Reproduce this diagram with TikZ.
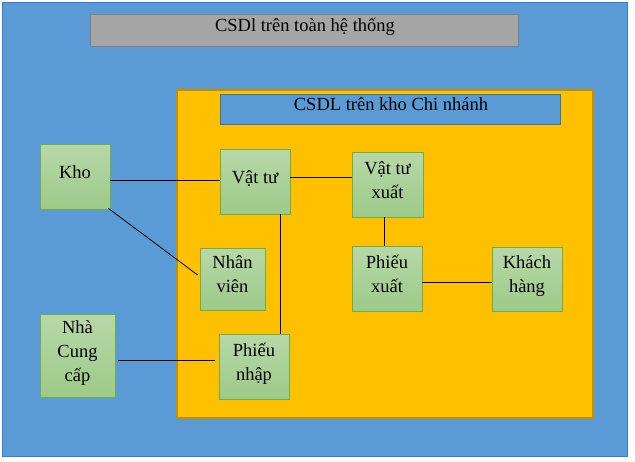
\documentclass[tikz,border=0pt]{standalone}
\usepackage{fontspec}
\setmainfont{Liberation Serif}
\definecolor{sysblue}{HTML}{5B9BD5}
\definecolor{sysblueline}{HTML}{41719C}
\definecolor{selblue}{HTML}{2F7FE0}
\definecolor{branchgold}{HTML}{FFC000}
\definecolor{branchgoldline}{HTML}{BF9000}
\definecolor{bargray}{HTML}{A5A5A5}
\definecolor{bargrayline}{HTML}{7F7F7F}
\definecolor{tabletop}{HTML}{B7D8A8}
\definecolor{tablebottom}{HTML}{9DCA89}
\definecolor{tableline}{HTML}{70AD47}
\newcommand{\boxstrut}{\rule[-9pt]{0pt}{19pt}}
\begin{document}
\begin{tikzpicture}[x=1pt, y=-1pt,
  table/.style={draw=tableline, thick, top color=tabletop, bottom color=tablebottom,
    inner sep=0pt, align=center, font=\fontsize{18.5}{24}\selectfont,
    execute at begin node=\boxstrut, execute at end node=\boxstrut},
  title/.style={anchor=base, inner sep=0pt, font=\fontsize{18.5}{24}\selectfont},
  link/.style={draw=black, line width=0.8pt}]
  \useasboundingbox (0,0) rectangle (635,461);

  % Frames
  \draw[selblue, line width=0.8pt, fill=sysblue] (2,2) rectangle (627,456);
  \draw[bargrayline, thick, fill=bargray] (90,14) rectangle (518,46);
  \node[title] (systitle) at (305,31.7) {CSDl trên toàn hệ thống};
  \draw[branchgoldline, line width=1.2pt, fill=branchgold] (177,90) rectangle (593,418);
  \draw[sysblueline, thick, fill=sysblue] (220,94) rectangle (560,124);
  \node[title] (branchtitle) at (391,110) {CSDL trên kho Chi nhánh};

  % Tables
  \node (kho) at (75,176.5) [table, minimum width=70pt, minimum height=65pt] {Kho};
  \node (vattu) at (255,181.5) [table, minimum width=70pt, minimum height=65pt] {Vật tư};
  \node (vattuxuat) at (387.5,184.5) [table, minimum width=71pt, minimum height=65pt] {Vật tư\\xuất};
  \node (nhanvien) at (232.5,279) [table, minimum width=65pt, minimum height=62pt] {Nhân\\viên};
  \node (phieuxuat) at (387,278.5) [table, minimum width=70pt, minimum height=65pt] {Phiếu\\xuất};
  \node (khachhang) at (527,279) [table, minimum width=70pt, minimum height=64pt] {Khách\\hàng};
  \node (nhacc) at (77.5,355.5) [table, minimum width=75pt, minimum height=83pt] {Nhà\\Cung\\cấp};
  \node (phieunhap) at (254,366.5) [table, minimum width=70pt, minimum height=65pt] {Phiếu\\nhập};

  % Links
  \draw[link] ([yshift=-3.5pt]kho.east) -- ([yshift=-3.5pt]kho.east -| vattu.west);
  \draw[link] ([yshift=4.5pt]vattu.east) -- ([yshift=4.5pt]vattu.east -| vattuxuat.west);
  \draw[link] ([xshift=-2pt,yshift=1pt]kho.south east) -- ([xshift=-2pt,yshift=4pt]nhanvien.west);
  \draw[link] ([xshift=-10pt]vattu.south east) -- ([xshift=-10pt]vattu.south east |- phieunhap.north);
  \draw[link] ([xshift=-3pt]vattuxuat.south) -- ([xshift=-3pt]vattuxuat.south |- phieuxuat.north);
  \draw[link] ([xshift=3pt,yshift=-4.5pt]nhacc.east) -- ([xshift=-4pt,yshift=-4.5pt]nhacc.east -| phieunhap.west);
  \draw[link] ([yshift=-3.5pt]phieuxuat.east) -- ([yshift=-3.5pt]phieuxuat.east -| khachhang.west);
\end{tikzpicture}
\end{document}
